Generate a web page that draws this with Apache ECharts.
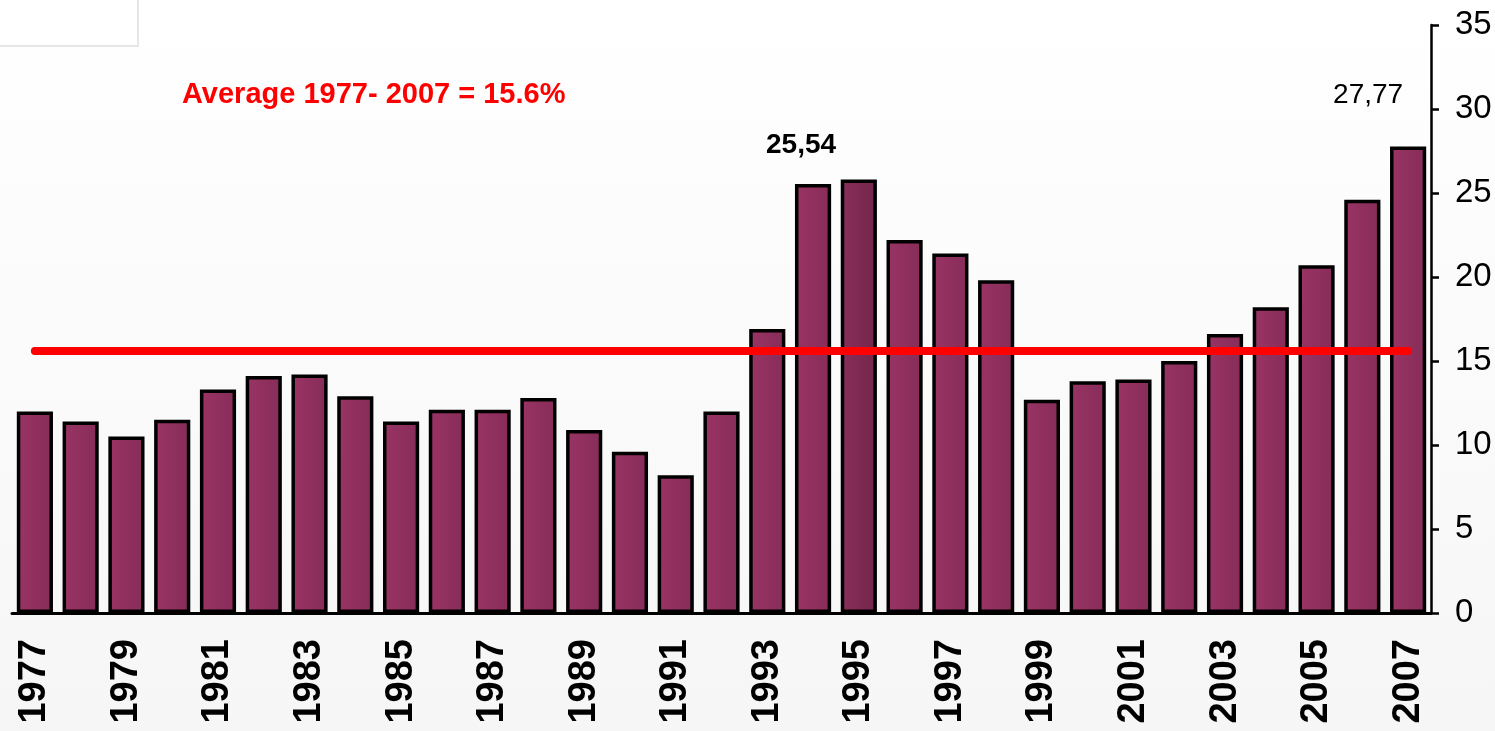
<!DOCTYPE html>
<html>
<head>
<meta charset="utf-8">
<script src="https://cdn.jsdelivr.net/npm/echarts@6/dist/echarts.min.js"></script>
<style>
  html, body { margin: 0; padding: 0; background: #fff; }
  #chart { width: 1495px; height: 731px; }
</style>
</head>
<body>
<div id="chart"></div>
<script>
// categories
const years = ['1977', '1978', '1979', '1980', '1981', '1982', '1983', '1984', '1985', '1986',
  '1987', '1988', '1989', '1990', '1991', '1992', '1993', '1994', '1995', '1996',
  '1997', '1998', '1999', '2000', '2001', '2002', '2003', '2004', '2005', '2006', '2007'];
// yearly values (%)
const values = [12.0, 11.4, 10.5, 11.5, 13.3, 14.1, 14.2, 12.9, 11.4, 12.1,
  12.1, 12.8, 10.9, 9.6, 8.2, 12.0, 16.9, 25.54, 25.8, 22.2,
  21.4, 19.8, 12.7, 13.8, 13.9, 15.0, 16.6, 18.2, 20.7, 24.6, 27.77];
// average line
const averageValue = 15.6;
const averageText = 'Average 1977- 2007 = 15.6%';

const chart = echarts.init(document.getElementById('chart'));

// bar fill, slightly lighter on the left
const barFill = new echarts.graphic.LinearGradient(0, 0, 1, 0, [
  { offset: 0, color: '#9a3464' },
  { offset: 1, color: '#862c58' }
]);
const darkFill = new echarts.graphic.LinearGradient(0, 0, 1, 0, [
  { offset: 0, color: '#8a2e5a' },
  { offset: 1, color: '#72264a' }
]);

const barData = values.map((v, i) => {
  const item = { value: v };
  if (years[i] === '1995') {
    item.itemStyle = { color: darkFill };
  }
  if (years[i] === '1994') {
    item.label = { show: true, fontWeight: 'bold', offset: [-12, -20] };
  }
  if (years[i] === '2007') {
    item.label = { show: true, fontWeight: 'normal', offset: [-40, -32] };
  }
  return item;
});

const option = {
  backgroundColor: new echarts.graphic.LinearGradient(0, 0, 0, 1, [
    { offset: 0, color: '#ffffff' },
    { offset: 1, color: '#f6f6f6' }
  ]),
  animation: false,
  textStyle: { fontFamily: 'Liberation Sans, Arial, sans-serif' },
  graphic: [
    {
      type: 'rect',
      shape: { x: -2, y: -2, width: 140, height: 48 },
      style: { fill: '#ffffff', stroke: '#e6e6e6', lineWidth: 2 }
    },
    {
      type: 'text',
      left: 182,
      top: 80,
      style: {
        text: averageText,
        fill: '#ff0000',
        font: 'bold 29px "Liberation Sans", Arial, sans-serif'
      }
    }
  ],
  grid: {
    left: 12,
    right: 64,
    top: 25,
    bottom: 118
  },
  xAxis: {
    type: 'category',
    data: years,
    axisLine: { lineStyle: { color: '#000', width: 3 } },
    axisTick: { interval: 0, length: 10, lineStyle: { color: '#000', width: 2 } },
    axisLabel: {
      interval: 1,
      rotate: 90,
      margin: 26,
      color: '#000',
      fontSize: 38,
      fontWeight: 'bold'
    }
  },
  yAxis: {
    type: 'value',
    position: 'right',
    min: 0,
    max: 35,
    interval: 5,
    splitLine: { show: false },
    axisLine: { show: true, lineStyle: { color: '#000', width: 2.5 } },
    axisTick: { show: true, inside: false, length: 8, lineStyle: { color: '#000', width: 2.5 } },
    axisLabel: {
      margin: 24,
      color: '#000',
      fontSize: 33
    }
  },
  series: [
    {
      type: 'bar',
      data: barData,
      barCategoryGap: '21%',
      itemStyle: {
        color: barFill,
        borderColor: '#000',
        borderWidth: 3.5
      },
      label: {
        show: false,
        position: 'top',
        color: '#000',
        fontSize: 28,
        formatter: p => String(p.value).replace('.', ',')
      },
      markLine: {
        silent: true,
        symbol: 'none',
        label: { show: false },
        lineStyle: { color: '#ff0000', width: 8, type: 'solid', cap: 'round' },
        data: [
          [
            { coord: [years[0], averageValue] },
            { coord: [years[years.length - 1], averageValue] }
          ]
        ]
      }
    }
  ]
};

chart.setOption(option);
</script>
</body>
</html>
